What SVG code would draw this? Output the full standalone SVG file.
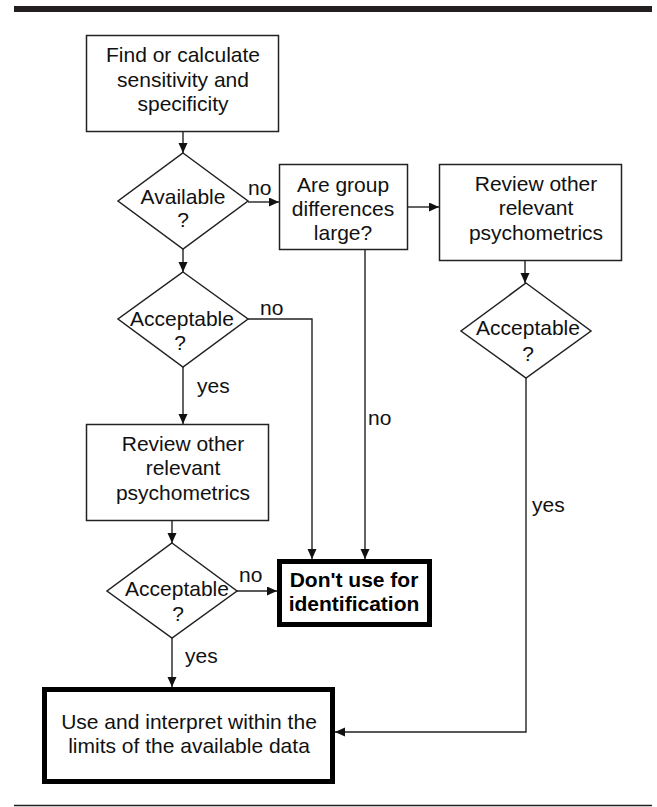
<svg xmlns="http://www.w3.org/2000/svg" width="657" height="807" viewBox="0 0 657 807">
<style>
  .box { fill: #fff; stroke: #222; stroke-width: 1.5; }
  .bold { fill: #fff; stroke: #000; stroke-width: 5; }
  .t { font-family: "Liberation Sans", Arial, sans-serif; font-size: 21px; fill: #111; text-anchor: middle; }
  .tb { font-family: "Liberation Sans", Arial, sans-serif; font-size: 21px; font-weight: bold; fill: #000; text-anchor: middle; }
  .lbl { font-family: "Liberation Sans", Arial, sans-serif; font-size: 21px; fill: #111; }
  .edge { fill: none; stroke: #222; stroke-width: 1.4; }
</style>
<defs>
  <marker id="arr" markerUnits="userSpaceOnUse" markerWidth="11" markerHeight="10" refX="10" refY="4.5" orient="auto">
    <path d="M0,0 L10,4.5 L0,9 Z" fill="#111"/>
  </marker>
</defs>
<rect width="657" height="807" fill="#fff"/>
<rect x="14" y="6" width="638" height="6" fill="#231f20"/>
<line x1="14" y1="805.5" x2="652" y2="805.5" stroke="#231f20" stroke-width="1.5"/>

<g id="connectors">
  <path class="edge" d="M183,132 V153" marker-end="url(#arr)"/>
  <path class="edge" d="M248,202 H279" marker-end="url(#arr)"/>
  <path class="edge" d="M408,207 H439" marker-end="url(#arr)"/>
  <path class="edge" d="M525,261 V283" marker-end="url(#arr)"/>
  <path class="edge" d="M183,249 V272" marker-end="url(#arr)"/>
  <path class="edge" d="M248,319 H312 V559" marker-end="url(#arr)"/>
  <path class="edge" d="M365,250 V559" marker-end="url(#arr)"/>
  <path class="edge" d="M183,367 V424" marker-end="url(#arr)"/>
  <path class="edge" d="M172,521 V543" marker-end="url(#arr)"/>
  <path class="edge" d="M237,591 H277" marker-end="url(#arr)"/>
  <path class="edge" d="M172,638 V687" marker-end="url(#arr)"/>
  <path class="edge" d="M526,378 V732 H335" marker-end="url(#arr)"/>
  <text class="lbl" x="248" y="195">no</text>
  <text class="lbl" x="260" y="315">no</text>
  <text class="lbl" x="368" y="425">no</text>
  <text class="lbl" x="197" y="393">yes</text>
  <text class="lbl" x="239" y="582">no</text>
  <text class="lbl" x="185" y="663">yes</text>
  <text class="lbl" x="532" y="512">yes</text>
</g>

<g id="find">
  <rect class="box" x="86.5" y="35.5" width="192" height="96"/>
  <text class="t" x="183" y="62">Find or calculate</text>
  <text class="t" x="183" y="87">sensitivity and</text>
  <text class="t" x="183" y="111">specificity</text>
</g>

<g id="available">
  <polygon class="box" points="183,153 248,201 183,249 118,201"/>
  <text class="t" x="183" y="204">Available</text>
  <text class="t" x="183" y="227">?</text>
</g>

<g id="group-diff">
  <rect class="box" x="279.5" y="164.5" width="128" height="85"/>
  <text class="t" x="343" y="192">Are group</text>
  <text class="t" x="343" y="216">differences</text>
  <text class="t" x="343" y="240">large?</text>
</g>

<g id="review-right">
  <rect class="box" x="439.5" y="164.5" width="182" height="96"/>
  <text class="t" x="536" y="191">Review other</text>
  <text class="t" x="536" y="215">relevant</text>
  <text class="t" x="536" y="240">psychometrics</text>
</g>

<g id="acceptable-1">
  <polygon class="box" points="183,272 248,319 183,367 118,319"/>
  <text class="t" x="182" y="326">Acceptable</text>
  <text class="t" x="180" y="350">?</text>
</g>

<g id="acceptable-right">
  <polygon class="box" points="526,283 591,331 526,378 461,331"/>
  <text class="t" x="528" y="335">Acceptable</text>
  <text class="t" x="528" y="361">?</text>
</g>

<g id="review-left">
  <rect class="box" x="86.5" y="424.5" width="182" height="96"/>
  <text class="t" x="183" y="451">Review other</text>
  <text class="t" x="183" y="475">relevant</text>
  <text class="t" x="183" y="500">psychometrics</text>
</g>

<g id="acceptable-2">
  <polygon class="box" points="172,543 237,591 172,638 107,591"/>
  <text class="t" x="177" y="596">Acceptable</text>
  <text class="t" x="178" y="621">?</text>
</g>

<g id="dont-use">
  <rect class="bold" x="279.5" y="561.5" width="150" height="63"/>
  <text class="tb" x="354" y="587">Don't use for</text>
  <text class="tb" x="354" y="611">identification</text>
</g>

<g id="use">
  <rect class="bold" x="44.5" y="689.5" width="288" height="92"/>
  <text class="t" x="189" y="729">Use and interpret within the</text>
  <text class="t" x="189" y="753">limits of the available data</text>
</g>
</svg>
